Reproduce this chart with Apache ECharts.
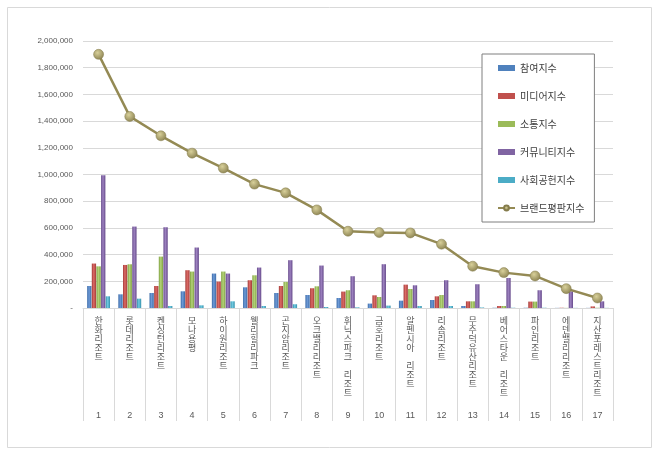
<!DOCTYPE html>
<html>
<head>
<meta charset="utf-8">
<script src="https://cdn.jsdelivr.net/npm/echarts@6/dist/echarts.min.js"></script>
<style>
html,body{margin:0;padding:0;background:#fff;}
#chart{width:660px;height:459px;}
</style>
</head>
<body>
<div id="chart"></div>
<script>
var categories = ['한화리조트','롯데리조트','켄싱턴리조트','모나용평','하이원리조트','웰리힐리파크','곤지암리조트','오크밸리리조트','휘닉스파크 리조트','금호리조트','알펜시아 리조트','리솜리조트','무주덕유산리조트','베어스타운 리조트','파인리조트','에덴밸리리조트','지산포레스트리조트'];
var ranks = ['1','2','3','4','5','6','7','8','9','10','11','12','13','14','15','16','17'];
var yTicks = [0,200000,400000,600000,800000,1000000,1200000,1400000,1600000,1800000,2000000];

var participation = [165000,102500,112500,125000,258000,155000,112500,97500,75000,33000,55000,60000,15000,2000,2000,1000,1000];
var media = [333000,322500,165000,283000,198000,208000,165000,148000,123000,95000,175000,87500,50000,15000,48000,2000,12000];
var communication = [312000,327500,385000,273000,273000,245000,195000,162500,133000,82500,142500,97500,50000,15000,48000,1000,2000];
var community = [995000,610000,605000,453000,258000,303000,358000,318000,238000,328000,170000,208000,178000,225000,133000,125000,50000];
var social = [87500,70000,15000,20000,50000,15000,28000,7500,5000,18000,15000,15000,4000,2000,2000,1000,1000];
var brand = [1900000,1435000,1290000,1160000,1048000,928000,862500,735000,575000,565000,562500,478000,313000,265000,240000,145000,75000];

var seriesNames = ['참여지수','미디어지수','소통지수','커뮤니티지수','사회공헌지수','브랜드평판지수'];

function grad(dark, light){
  return new echarts.graphic.LinearGradient(0,0,1,0,[
    {offset:0,color:dark},{offset:0.45,color:light},{offset:1,color:dark}
  ]);
}
var barColors = [
  grad('#3b6ba8','#6e9ad6'),
  grad('#a33b38','#dc6a66'),
  grad('#7fa03f','#b5d47a'),
  grad('#65498a','#9d82c0'),
  grad('#3591ab','#72cbe2')
];
var legendColors = ['#4F81BD','#C0504D','#9BBB59','#8064A2','#4BACC6'];
var barData = [participation, media, communication, community, social];

var font = "'Noto Sans CJK KR', 'Noto Sans', sans-serif";

var series = barData.map(function(d,i){
  return {
    name: seriesNames[i],
    type: 'bar',
    xAxisIndex: 0,
    data: d,
    barWidth: 4.3,
    barGap: '8%',
    itemStyle: {color: barColors[i]},
    emphasis: {disabled: true}
  };
});
series.push({
  name: seriesNames[5],
  type: 'line',
  xAxisIndex: 0,
  data: brand,
  symbol: 'circle',
  symbolSize: 10,
  lineStyle: {color: '#948A54', width: 2.5},
  itemStyle: {
    color: new echarts.graphic.RadialGradient(0.4,0.35,0.7,[
      {offset:0,color:'#d8d09a'},{offset:1,color:'#8a8150'}
    ]),
    borderColor: '#857c4c',
    borderWidth: 0.5
  },
  z: 5,
  emphasis: {disabled: true}
});

var chart = echarts.init(document.getElementById('chart'));
chart.setOption({
  animation: false,
  backgroundColor: '#fff',
  textStyle: {fontFamily: font},
  graphic: [{
    type: 'rect',
    shape: {x: 7.5, y: 7.5, width: 644, height: 440},
    style: {fill: 'none', stroke: '#d9d9d9', lineWidth: 1},
    z: -10
  }],
  grid: {left: 83, right: 47, top: 41, bottom: 151},
  legend: {
    orient: 'vertical',
    left: 482,
    top: 54,
    padding: [7, 10, 7, 15],
    itemGap: 14,
    itemWidth: 17,
    itemHeight: 6,
    backgroundColor: '#fff',
    borderColor: '#7f7f7f',
    borderWidth: 1,
    textStyle: {fontSize: 10, color: '#404040', fontFamily: font, lineHeight: 14},
    data: seriesNames.map(function(n,i){
      if (i < 5) return {name: n, icon: 'rect', itemStyle: {color: legendColors[i]}};
      return {name: n};
    })
  },
  xAxis: [{
    type: 'category',
    data: categories,
    position: 'bottom',
    axisLine: {show: true, lineStyle: {color: '#d9d9d9'}},
    axisTick: {show: true, length: 113, interval: 0, lineStyle: {color: '#d9d9d9'}},
    axisLabel: {
      interval: 0,
      margin: 8,
      fontSize: 9,
      lineHeight: 9,
      color: '#595959',
      fontFamily: font,
      verticalAlign: 'top',
      formatter: function(v){ return v.split('').join('\n'); }
    }
  },{
    type: 'category',
    data: ranks,
    position: 'bottom',
    offset: 100,
    axisLine: {show: false},
    axisTick: {show: false},
    axisLabel: {interval: 0, margin: 3, fontSize: 9, color: '#595959', fontFamily: "'Liberation Sans', sans-serif"}
  }],
  yAxis: {
    type: 'value',
    min: yTicks[0],
    max: yTicks[yTicks.length-1],
    interval: yTicks[1] - yTicks[0],
    axisLine: {show: false},
    axisTick: {show: false},
    splitLine: {lineStyle: {color: '#d9d9d9'}},
    axisLabel: {
      margin: 10,
      fontSize: 8,
      color: '#595959',
      fontFamily: "'Liberation Sans', sans-serif",
      formatter: function(v){ return v === 0 ? '-' : v.toLocaleString('en-US'); }
    }
  },
  series: series
});
</script>
</body>
</html>
